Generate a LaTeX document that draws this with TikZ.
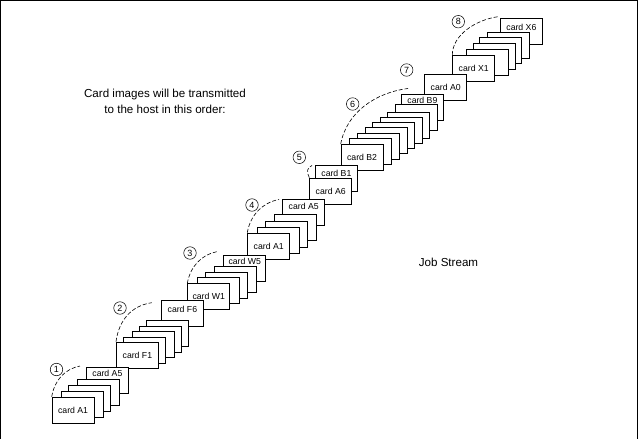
\documentclass[tikz,border=0pt]{standalone}
\usepackage{fontspec}
\setmainfont{Liberation Sans}
\begin{document}
\begin{tikzpicture}[x=1pt,y=-1pt,
  card/.style={draw, fill=white, line width=0.8pt, minimum width=42pt, minimum height=26pt,
    inner sep=0pt, anchor=north west, font=\fontsize{8.7}{10}\selectfont},
  lbl/.style={inner sep=0pt, font=\fontsize{8.7}{10}\selectfont},
  num/.style={draw, circle, line width=0.5pt, inner sep=0pt, minimum size=12.5pt,
    font=\fontsize{9}{10}\selectfont},
  arcline/.style={line width=0.6pt, dash pattern=on 4pt off 2pt},
  txt/.style={font=\fontsize{11.6}{15.5}\selectfont, align=center}]
\useasboundingbox (0,0) rectangle (638,439);
\draw[line width=1pt] (0.5,439) -- (0.5,0.5) -- (637.5,0.5) -- (637.5,439);

% group 8
\node[card] (h6) at (500,18.3) {};
\node[lbl] (h6t) at ([yshift=-9pt]h6.north) {card X6};
\node[card] (h5) at (486.7,32.3) {};
\node[card] (h4) at (479.3,37) {};
\node[card] (h3) at (472.7,43) {};
\node[card] (h2) at (466,48.5) {};
\node[card] (h1) at (452.3,55) {card X1};
\node[num] (n8) at (458.3,21.7) {8};
\coordinate (e8) at (498,16.7);
\draw[arcline] (h1.north west) .. controls +(0,-20) and +(-22,3) .. (e8);

% group 7
\node[card] (g7) at (424.3,74) {card A0};
\node[num] (n7) at (406.7,70) {7};

% group 6
\node[card] (f9) at (401,94.3) {};
\node[lbl] (f9t) at ([yshift=-6pt]f9.north) {card B9};
\node[card] (f8) at (395,104) {};
\node[card] (f7) at (387.3,111.7) {};
\node[card] (f6) at (380,116.7) {};
\node[card] (f5) at (371.7,121.7) {};
\node[card] (f4) at (365,127.3) {};
\node[card] (f3) at (356.7,132.7) {};
\node[card] (f2) at (349.3,138.3) {};
\node[card] (f1) at (340.7,144) {card B2};
\node[num] (n6) at (352.7,104) {6};
\coordinate (e6) at (408,88.5);
\draw[arcline] (f1.north west) .. controls +(6,-32) and +(-32,4) .. (e6);

% group 5
\node[card] (d2) at (315,165) {};
\node[lbl] (d2t) at ([yshift=-8pt]d2.north) {card B1};
\node[card] (d1) at (309.3,177.7) {card A6};
\node[num] (n5) at (299.3,157.3) {5};
\coordinate (e5) at (312,165.5);
\draw[arcline] (d1.north west) .. controls +(-3,-6) and +(-5,2) .. (e5);

% group 4
\node[card] (c5) at (282.3,199.3) {};
\node[lbl] (c5t) at ([yshift=-7pt]c5.north) {card A5};
\node[card] (c4) at (274.3,214.3) {};
\node[card] (c3) at (265,220.7) {};
\node[card] (c2) at (256.7,226.7) {};
\node[card] (c1) at (247.3,232.7) {card A1};
\node[num] (n4) at (252,205) {4};
\coordinate (e4) at (279,199.5);
\draw[arcline] (c1.north west) .. controls +(3,-18) and +(-16,3) .. (e4);

% group 3
\node[card] (b5) at (223.3,255) {};
\node[lbl] (b5t) at ([yshift=-6pt]b5.north) {card W5};
\node[card] (b4) at (214.3,266) {};
\node[card] (b3) at (205,271.7) {};
\node[card] (b2) at (196.7,277.3) {};
\node[card] (b1) at (187.3,283.3) {card W1};
\node[num] (n3) at (190,253) {3};
\coordinate (e3) at (216.7,251.7);
\draw[arcline] (b1.north west) .. controls +(3,-17) and +(-15,3) .. (e3);

% group 2
\node[card] (a6) at (161,300) {};
\node[lbl] (a6t) at ([yshift=-9pt]a6.north) {card F6};
\node[card] (a5) at (146,320.3) {};
\node[card] (a4) at (139.3,326) {};
\node[card] (a3) at (131.7,331) {};
\node[card] (a2) at (123.3,336.7) {};
\node[card] (a1) at (116,341.7) {card F1};
\node[num] (n2) at (120,308) {2};
\coordinate (e2) at (151.7,302.7);
\draw[arcline] (a1.north west) .. controls +(3,-22) and +(-20,3) .. (e2);

% group 1
\node[card] (z5) at (86,367.3) {};
\node[lbl] (z5t) at ([yshift=-6pt]z5.north) {card A5};
\node[card] (z4) at (76.7,379.3) {};
\node[card] (z3) at (68.3,385) {};
\node[card] (z2) at (60.7,391) {};
\node[card] (z1) at (51.7,396.7) {card A1};
\node[num] (n1) at (56.5,369.5) {1};
\coordinate (e1) at (80,366);
\draw[arcline] (z1.north west) .. controls +(3,-17) and +(-15,3) .. (e1);

% texts
\node[txt] (title) at (165,101.5) {Card images will be transmitted\\to the host in this order:};
\node[txt] (js) at (448.5,262) {Job Stream};
\end{tikzpicture}
\end{document}
